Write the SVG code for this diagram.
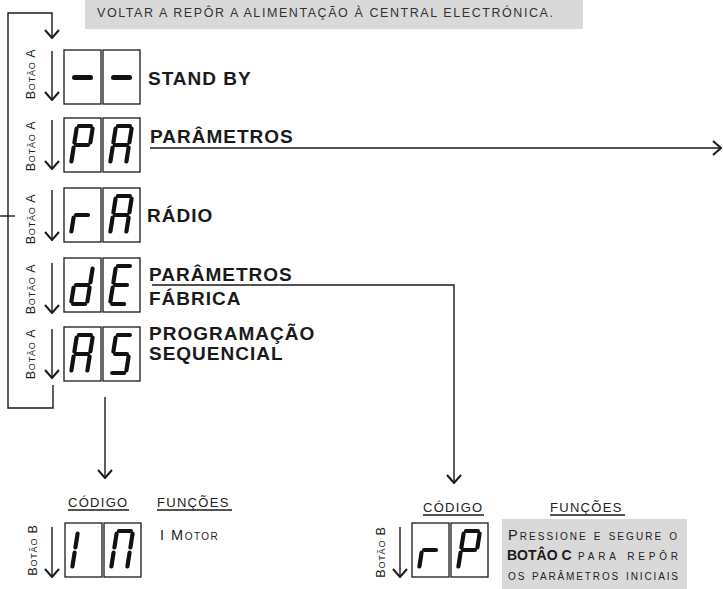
<svg xmlns="http://www.w3.org/2000/svg" xmlns:xlink="http://www.w3.org/1999/xlink" width="723" height="589" viewBox="0 0 723 589">
<style>
.box{fill:#fff;stroke:#1a1a1a;stroke-width:1.3}
.seg{stroke:#111;stroke-width:4.2;stroke-linecap:round;fill:none}
.dash{stroke:#111;stroke-width:5;stroke-linecap:round;fill:none}
.ln{stroke:#1a1a1a;stroke-width:1.4;fill:none}
.lbl{font-family:"Liberation Sans",Arial,sans-serif;font-weight:bold;font-size:19px;letter-spacing:1px;fill:#1a1a1a}
.btn{font-family:"Liberation Sans",Arial,sans-serif;font-size:12.5px;font-variant:small-caps;letter-spacing:0.8px;fill:#222}
.hdr{font-family:"Liberation Sans",Arial,sans-serif;font-size:13px;letter-spacing:1.3px;fill:#222}
.sc{font-family:"Liberation Sans",Arial,sans-serif;font-size:14.5px;font-variant:small-caps;fill:#222}
.bold{font-family:"Liberation Sans",Arial,sans-serif;font-weight:bold;font-size:14px;fill:#1a1a1a}
.ban{font-family:"Liberation Sans",Arial,sans-serif;font-size:12.5px;fill:#333}
.grey{fill:#d9d9d9}
</style>
<defs>
<marker id="chev" markerUnits="userSpaceOnUse" viewBox="0 0 10 16" refX="9" refY="8" markerWidth="10" markerHeight="16" orient="auto">
<path d="M1,1 L9,8 L1,15" fill="none" stroke="#1a1a1a" stroke-width="2"/>
</marker>
<path id="sa" class="seg" d="M14.9 8 L26.9 8"/>
<path id="sb" class="seg" d="M28.6 10.5 L26.4 24.5"/>
<path id="sc" class="seg" d="M25.6 29.5 L23.4 43.5"/>
<path id="sd" class="seg" d="M9.1 46 L21.1 46"/>
<path id="se" class="seg" d="M9.6 29.5 L7.4 43.5"/>
<path id="sf" class="seg" d="M12.6 10.5 L10.4 24.5"/>
<path id="sg" class="seg" d="M12 27 L24 27"/>
<path id="sdash" class="dash" d="M10.5 27.5 L26.5 27.5"/>
<g id="dP"><use href="#sa"/><use href="#sb"/><use href="#sf"/><use href="#sg"/><use href="#se"/></g>
<g id="dA"><use href="#sa"/><use href="#sb"/><use href="#sc"/><use href="#se"/><use href="#sf"/><use href="#sg"/></g>
<g id="dr"><use href="#se"/><use href="#sg"/></g>
<g id="dd"><use href="#sb"/><use href="#sc"/><use href="#sd"/><use href="#se"/><use href="#sg"/></g>
<g id="dE"><use href="#sa"/><use href="#sd"/><use href="#se"/><use href="#sf"/><use href="#sg"/></g>
<g id="dS"><use href="#sa"/><use href="#sf"/><use href="#sg"/><use href="#sc"/><use href="#sd"/></g>
<g id="d1"><use href="#se"/><use href="#sf"/></g>
<g id="dn"><use href="#sa"/><use href="#sb"/><use href="#sc"/><use href="#se"/><use href="#sf"/></g>
</defs>

<rect width="723" height="589" fill="#fff"/>

<g id="banner">
<rect class="grey" x="85" y="0" width="498" height="29"/>
<text class="ban" x="97" y="17" textLength="456" lengthAdjust="spacing">VOLTAR A REPÔR A ALIMENTAÇÃO À CENTRAL ELECTRÓNICA.</text>
</g>

<g id="connectors">
<polyline class="ln" points="53,385 53,408 8,408 8,13 52,13 52,38" marker-end="url(#chev)"/>
<line class="ln" x1="0" y1="216" x2="15" y2="216"/>
<line class="ln" x1="52" y1="51" x2="52" y2="100" marker-end="url(#chev)"/>
<line class="ln" x1="52" y1="120" x2="52" y2="169" marker-end="url(#chev)"/>
<line class="ln" x1="52" y1="190" x2="52" y2="240" marker-end="url(#chev)"/>
<line class="ln" x1="52" y1="263" x2="52" y2="313" marker-end="url(#chev)"/>
<line class="ln" x1="52" y1="329" x2="52" y2="378" marker-end="url(#chev)"/>
<line class="ln" x1="52" y1="527" x2="52" y2="577" marker-end="url(#chev)"/>
<line class="ln" x1="400" y1="527" x2="400" y2="577" marker-end="url(#chev)"/>
<line class="ln" x1="150" y1="148" x2="721" y2="148" marker-end="url(#chev)"/>
<polyline class="ln" points="152,285 454,285 454,483" marker-end="url(#chev)"/>
<line class="ln" x1="105" y1="397" x2="105" y2="478" marker-end="url(#chev)"/>
</g>

<g id="row-standby">
<text class="btn" text-anchor="middle" transform="translate(35,74) rotate(-90)">Botão A</text>
<rect class="box" x="64" y="50" width="37" height="54"/>
<rect class="box" x="103" y="50" width="37" height="54"/>
<use href="#sdash" x="64" y="50"/>
<use href="#sdash" x="103" y="50"/>
<text class="lbl" x="148" y="85">STAND BY</text>
</g>

<g id="row-parametros">
<text class="btn" text-anchor="middle" transform="translate(35,146) rotate(-90)">Botão A</text>
<rect class="box" x="64" y="118" width="37" height="54"/>
<rect class="box" x="103" y="118" width="37" height="54"/>
<use href="#dP" x="64" y="118"/>
<use href="#dA" x="103" y="118"/>
<text class="lbl" x="150" y="143">PARÂMETROS</text>
</g>

<g id="row-radio">
<text class="btn" text-anchor="middle" transform="translate(35,219) rotate(-90)">Botão A</text>
<rect class="box" x="64" y="188" width="37" height="54"/>
<rect class="box" x="103" y="188" width="37" height="54"/>
<use href="#dr" x="64" y="188"/>
<use href="#dA" x="103" y="188"/>
<text class="lbl" x="147" y="222">RÁDIO</text>
</g>

<g id="row-fabrica">
<text class="btn" text-anchor="middle" transform="translate(35,289) rotate(-90)">Botão A</text>
<rect class="box" x="64" y="258" width="37" height="54"/>
<rect class="box" x="103" y="258" width="37" height="54"/>
<use href="#dd" x="64" y="258"/>
<use href="#dE" x="103" y="258"/>
<text class="lbl" x="149" y="281">PARÂMETROS</text>
<text class="lbl" x="149" y="305">FÁBRICA</text>
</g>

<g id="row-sequencial">
<text class="btn" text-anchor="middle" transform="translate(35,354) rotate(-90)">Botão A</text>
<rect class="box" x="64" y="327" width="37" height="54"/>
<rect class="box" x="103" y="327" width="37" height="54"/>
<use href="#dA" x="64" y="327"/>
<use href="#dS" x="103" y="327"/>
<text class="lbl" x="149" y="340">PROGRAMAÇÃO</text>
<text class="lbl" x="149" y="360">SEQUENCIAL</text>
</g>

<g id="code-motor">
<text class="hdr" x="68" y="507">CÓDIGO</text>
<line class="ln" x1="68" y1="510" x2="129" y2="510" stroke-width="1"/>
<text class="hdr" x="157" y="507">FUNÇÕES</text>
<line class="ln" x1="157" y1="510" x2="232" y2="510" stroke-width="1"/>
<text class="btn" text-anchor="middle" transform="translate(37,550) rotate(-90)">Botão B</text>
<rect class="box" x="65" y="523" width="37" height="54"/>
<rect class="box" x="104" y="523" width="37" height="54"/>
<use href="#d1" x="65" y="523"/>
<use href="#dn" x="104" y="523"/>
<text class="sc" x="160" y="540" letter-spacing="1.5">I Motor</text>
</g>

<g id="code-reset">
<text class="hdr" x="423" y="512">CÓDIGO</text>
<line class="ln" x1="423" y1="515" x2="484" y2="515" stroke-width="1"/>
<text class="hdr" x="550" y="512">FUNÇÕES</text>
<line class="ln" x1="550" y1="515" x2="625" y2="515" stroke-width="1"/>
<text class="btn" text-anchor="middle" transform="translate(385,552) rotate(-90)">Botão B</text>
<rect class="box" x="412" y="523" width="37" height="54"/>
<rect class="box" x="451" y="523" width="37" height="54"/>
<use href="#dr" x="412" y="523"/>
<use href="#dP" x="451" y="523"/>
<rect class="grey" x="502" y="519" width="185" height="70"/>
<text class="sc" x="508" y="540" textLength="169" lengthAdjust="spacing">Pressione e segure o</text>
<text class="bold" x="507" y="560">BOTÂO C</text>
<text class="sc" x="578" y="560" textLength="100" lengthAdjust="spacing">para repôr</text>
<text class="sc" x="508" y="580" textLength="170" lengthAdjust="spacing">os parâmetros iniciais</text>
</g>
</svg>
